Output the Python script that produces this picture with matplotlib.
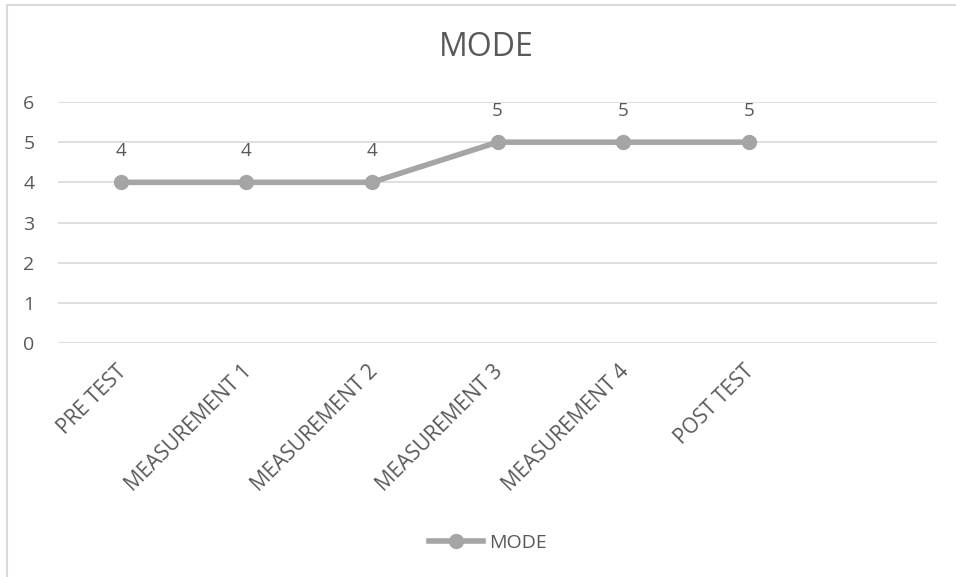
import matplotlib
matplotlib.use("Agg")
import matplotlib.pyplot as plt
import matplotlib.transforms as mtransforms
from matplotlib.lines import Line2D
from matplotlib.patches import Rectangle

categories = ["PRE TEST", "MEASUREMENT 1", "MEASUREMENT 2", "MEASUREMENT 3", "MEASUREMENT 4", "POST TEST"]
mode_values = [4, 4, 4, 5, 5, 5]
y_ticks = [0, 1, 2, 3, 4, 5, 6]
series_name = "MODE"
title = "MODE"

plt.rcParams['font.family'] = ['Open Sans', 'DejaVu Sans']
TXT = '#595959'
LINE = '#A5A5A5'
GRID = '#D9D9D9'

W, H = 956, 577
fig = plt.figure(figsize=(W/100, H/100), dpi=100)
fig.patches.append(Rectangle((6.5/W, -0.1), 1.2, 1.1 + (H-4.5)/H - 1.0, transform=fig.transFigure,
                             fill=False, edgecolor=GRID, linewidth=1.5))

ax = fig.add_axes([58/W, 1-343/H, (937-58)/W, (343-102)/H])
x = list(range(len(categories)))
ax.plot(x, mode_values, color=LINE, linewidth=4, marker='o', markersize=10,
        solid_capstyle='round', zorder=3)
for xi, v in zip(x, mode_values):
    ax.annotate(str(v), (xi, v), xytext=(0, 22.5), textcoords='offset points',
                ha='center', va='center', fontsize=13.5, color=TXT)

ax.set_xlim(-0.5, 6.5)
ax.set_ylim(0, 6)
ax.set_yticks(y_ticks)
ax.set_yticklabels([str(t) for t in y_ticks], fontsize=14, color=TXT)
ax.set_xticks(x)
ax.set_xticklabels(categories, rotation=45, ha='right', rotation_mode='anchor',
                   fontsize=15, color=TXT)
ax.tick_params(axis='both', length=0)
ax.tick_params(axis='y', pad=17)
ax.tick_params(axis='x', pad=13)
shift = mtransforms.ScaledTranslation(-5/100, 0, fig.dpi_scale_trans)
for lbl in ax.get_xticklabels():
    lbl.set_transform(lbl.get_transform() + shift)
ax.grid(axis='y', color=GRID, linewidth=1.2)
ax.set_axisbelow(True)
for s in ax.spines.values():
    s.set_visible(False)

fig.text(486/W, 1-47/H, title, ha='center', va='center', fontsize=23, color=TXT)

handle = Line2D([], [], color=LINE, linewidth=4, marker='o', markersize=10)
fig.legend([handle], [series_name], loc='center', bbox_to_anchor=(488/W, 1-543/H),
           frameon=False, fontsize=14, labelcolor=TXT, handlelength=2.8,
           handletextpad=0.3)

fig.savefig("out.png", dpi=100)
